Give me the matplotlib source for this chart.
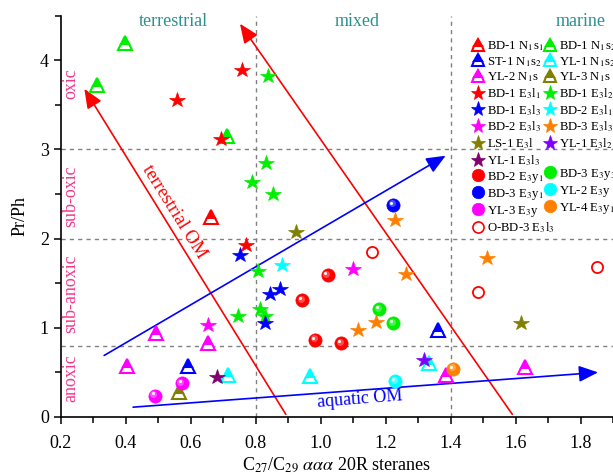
import matplotlib
matplotlib.use("Agg")
import matplotlib.pyplot as plt
import matplotlib.transforms as mtransforms
from matplotlib.lines import Line2D

plt.rcParams['font.family'] = ['Liberation Serif', 'DejaVu Serif']
plt.rcParams['mathtext.fontset'] = 'stix'

# ── Data (C27/C29 steranes vs Pr/Ph) ──────────────────────────────────────
# triangles (N1 samples)
bd1_n1s1_x = [0.663]
bd1_n1s1_y = [2.24]
bd1_n1s2_x = [0.398, 0.313, 0.711]
bd1_n1s2_y = [4.19, 3.72, 3.15]
st1_n1s2_x = [0.591, 1.362]
st1_n1s2_y = [0.57, 0.97]
yl1_n1s2_x = [0.714, 0.968, 1.334]
yl1_n1s2_y = [0.47, 0.46, 0.60]
yl2_n1s_x = [0.494, 0.653, 0.405, 1.385, 1.629]
yl2_n1s_y = [0.94, 0.83, 0.57, 0.47, 0.56]
yl3_n1s_x = [0.564]
yl3_n1s_y = [0.28]
# stars (E3l samples)
bd1_e3l1_x = [0.557, 0.759, 0.693, 0.770]
bd1_e3l1_y = [3.56, 3.89, 3.12, 1.93]
bd1_e3l2_x = [0.839, 0.832, 0.788, 0.853, 0.808, 0.813, 0.747, 0.829]
bd1_e3l2_y = [3.82, 2.85, 2.64, 2.50, 1.64, 1.21, 1.13, 1.13]
bd1_e3l3_x = [0.752, 0.844, 0.874, 0.829]
bd1_e3l3_y = [1.82, 1.38, 1.44, 1.05]
bd2_e3l1_x = [0.882]
bd2_e3l1_y = [1.70]
bd2_e3l3_x = [0.653, 1.101]
bd2_e3l3_y = [1.03, 1.66]
bd3_e3l3_x = [1.229, 1.262, 1.513, 1.170, 1.116]
bd3_e3l3_y = [2.21, 1.60, 1.78, 1.07, 0.97]
ls1_e3l_x = [0.923, 1.617]
ls1_e3l_y = [2.07, 1.05]
yl1_e3l2_x = [1.318]
yl1_e3l2_y = [0.64]
yl1_e3l3_x = [0.680]
yl1_e3l3_y = [0.45]
# spheres (E3y samples)
bd2_e3y1_x = [1.022, 0.944, 0.983, 1.063]
bd2_e3y1_y = [1.59, 1.31, 0.865, 0.83]
bd3_e3y3_x = [1.180, 1.224]
bd3_e3y3_y = [1.21, 1.05]
bd3_e3y1_x = [1.224]
bd3_e3y1_y = [2.38]
yl2_e3y_x = [1.229]
yl2_e3y_y = [0.40]
yl3_e3y_x = [0.573, 0.490]
yl3_e3y_y = [0.38, 0.24]
yl4_e3y1_x = [1.408]
yl4_e3y1_y = [0.54]
# open circles
obd3_e3l3_x = [1.157, 1.485, 1.850]
obd3_e3l3_y = [1.85, 1.40, 1.68]

# trend arrows: (start, end)
terr_arrow1 = [(0.893, 0.03), (0.273, 3.68)]
terr_arrow2 = [(1.590, 0.03), (0.752, 4.41)]
aq_arrow1 = [(0.334, 0.69), (1.385, 2.93)]
aq_arrow2 = [(0.423, 0.11), (1.854, 0.50)]

RED, GREEN, BLUE = '#ff0000', '#00ee00', '#0000ff'
CYAN, MAG, OLIVE = '#00ffff', '#ff00ff', '#808000'
ORANGE, VIOLET, PURPLE = '#ff8000', '#8000ff', '#800070'

fig = plt.figure(figsize=(6.13, 4.76), dpi=100)
ax = fig.add_axes([0.0989, 0.124, 0.9011, 0.843])
ax.set_xlim(0.2, 1.9)
ax.set_ylim(0, 4.5)

# ── dashed division lines ─────────────────────────────────────────────────
for xv in [0.8, 1.4]:
    ax.axvline(xv, color='#808080', ls=(0, (3, 3)), lw=1, zorder=1)
for yv in [3, 2, 0.8]:
    ax.axhline(yv, color='#808080', ls=(0, (3, 3)), lw=1, zorder=1)

# ── arrows ───────────────────────────────────────────────────────────────
def arrow(pts, color):
    ax.annotate('', xy=pts[1], xytext=pts[0],
                arrowprops=dict(arrowstyle='-|>,head_length=0.9,head_width=0.38',
                                mutation_scale=13, color=color, lw=1.2,
                                shrinkA=0, shrinkB=0), zorder=2)

arrow(terr_arrow1, RED)
arrow(terr_arrow2, RED)
arrow(aq_arrow1, BLUE)
arrow(aq_arrow2, BLUE)

ax.text(0.55, 2.30, 'terrestrial OM', color=RED, fontsize=13.5,
        rotation=-58, ha='center', va='center', rotation_mode='anchor')
ax.text(1.12, 0.20, 'aquatic OM', color=BLUE, fontsize=13,
        rotation=4.5, ha='center', va='center', rotation_mode='anchor')

# ── region labels ────────────────────────────────────────────────────────
TEAL = '#2a9090'
PINK = '#ee3a8c'
ax.text(0.546, 4.43, 'terrestrial', color=TEAL, fontsize=13, ha='center', va='center')
ax.text(1.112, 4.43, 'mixed', color=TEAL, fontsize=13, ha='center', va='center')
ax.text(1.80, 4.43, 'marine', color=TEAL, fontsize=13, ha='center', va='center')
for lab, yy in [('oxic', 3.74), ('sub-oxic', 2.48), ('sub-anoxic', 1.38), ('anoxic', 0.44)]:
    ax.text(0.232, yy, lab, color=PINK, fontsize=13, rotation=90,
            ha='center', va='center')

# ── markers ──────────────────────────────────────────────────────────────
def tri(x, y, c):
    ax.plot(x, y, ls='none', marker='^', ms=10, mfc=c, mfcalt='white',
            fillstyle='top', mec=c, mew=1.5, zorder=5)

def star(x, y, c):
    ax.plot(x, y, ls='none', marker='*', ms=11.5, mfc=c, mec=c, mew=0.5, zorder=5)

def lighten(c, f):
    r, g, b = matplotlib.colors.to_rgb(c)
    return (r + (1 - r) * f, g + (1 - g) * f, b + (1 - b) * f)

def sphere(x, y, c):
    ax.plot(x, y, ls='none', marker='o', ms=9.5, mfc=c, mec=c, mew=0.5, zorder=5)
    off = mtransforms.ScaledTranslation(-1.0 / 72, 1.0 / 72, fig.dpi_scale_trans)
    ax.plot(x, y, ls='none', marker='o', ms=5, mfc=lighten(c, 0.3), mec='none',
            transform=ax.transData + off, zorder=6)
    off2 = mtransforms.ScaledTranslation(-1.6 / 72, 1.6 / 72, fig.dpi_scale_trans)
    ax.plot(x, y, ls='none', marker='o', ms=2.2, mfc='white', mec='none',
            transform=ax.transData + off2, zorder=7)

tri(bd1_n1s1_x, bd1_n1s1_y, RED)
tri(bd1_n1s2_x, bd1_n1s2_y, GREEN)
tri(st1_n1s2_x, st1_n1s2_y, BLUE)
tri(yl1_n1s2_x, yl1_n1s2_y, CYAN)
tri(yl2_n1s_x, yl2_n1s_y, MAG)
tri(yl3_n1s_x, yl3_n1s_y, OLIVE)
star(bd1_e3l1_x, bd1_e3l1_y, RED)
star(bd1_e3l2_x, bd1_e3l2_y, GREEN)
star(bd1_e3l3_x, bd1_e3l3_y, BLUE)
star(bd2_e3l1_x, bd2_e3l1_y, CYAN)
star(bd2_e3l3_x, bd2_e3l3_y, MAG)
star(bd3_e3l3_x, bd3_e3l3_y, ORANGE)
star(ls1_e3l_x, ls1_e3l_y, OLIVE)
star(yl1_e3l2_x, yl1_e3l2_y, VIOLET)
star(yl1_e3l3_x, yl1_e3l3_y, PURPLE)
sphere(bd2_e3y1_x, bd2_e3y1_y, RED)
sphere(bd3_e3y3_x, bd3_e3y3_y, GREEN)
sphere(bd3_e3y1_x, bd3_e3y1_y, BLUE)
sphere(yl2_e3y_x, yl2_e3y_y, CYAN)
sphere(yl3_e3y_x, yl3_e3y_y, MAG)
sphere(yl4_e3y1_x, yl4_e3y1_y, ORANGE)
ax.plot(obd3_e3l3_x, obd3_e3l3_y, ls='none', marker='o', ms=8, mfc='white',
        mec=RED, mew=1.3, zorder=5)

# ── legend (two separate columns) ────────────────────────────────────────
def h_tri(c):
    return Line2D([], [], ls='none', marker='^', ms=9, mfc=c, mfcalt='white',
                  fillstyle='top', mec=c, mew=1.5)

def h_mk(m, c, ms, mfc=None):
    return Line2D([], [], ls='none', marker=m, ms=ms, mfc=c if mfc is None else mfc,
                  mec=c, mew=1.2 if mfc else 0.5)

blank = Line2D([], [], ls='none', marker=None)
col1 = [(h_tri(RED), 'BD-1 N$_1$s$_1$'), (h_tri(BLUE), 'ST-1 N$_1$s$_2$'),
        (h_tri(MAG), 'YL-2 N$_1$s'), (h_mk('*', RED, 11), 'BD-1 E$_3$l$_1$'),
        (h_mk('*', BLUE, 11), 'BD-1 E$_3$l$_3$'), (h_mk('*', MAG, 11), 'BD-2 E$_3$l$_3$'),
        (h_mk('*', OLIVE, 11), 'LS-1 E$_3$l'), (h_mk('*', PURPLE, 11), 'YL-1 E$_3$l$_3$'),
        (h_mk('o', RED, 9), 'BD-2 E$_3$y$_1$'), (h_mk('o', BLUE, 9), 'BD-3 E$_3$y$_1$'),
        (h_mk('o', MAG, 9), 'YL-3 E$_3$y'), (h_mk('o', RED, 8, 'white'), 'O-BD-3 E$_3$l$_3$')]
col2 = [(h_tri(GREEN), 'BD-1 N$_1$s$_2$'), (h_tri(CYAN), 'YL-1 N$_1$s$_2$'),
        (h_tri(OLIVE), 'YL-3 N$_1$s'), (h_mk('*', GREEN, 11), 'BD-1 E$_3$l$_2$'),
        (h_mk('*', CYAN, 11), 'BD-2 E$_3$l$_1$'), (h_mk('*', ORANGE, 11), 'BD-3 E$_3$l$_3$'),
        (h_mk('*', VIOLET, 11), 'YL-1 E$_3$l$_2$'), (blank, ' '),
        (h_mk('o', GREEN, 9), 'BD-3 E$_3$y$_3$'), (h_mk('o', CYAN, 9), 'YL-2 E$_3$y'),
        (h_mk('o', ORANGE, 9), 'YL-4 E$_3$y$_1$')]

leg_kw = dict(loc='upper left', frameon=False, fontsize=9.2, handlelength=0.8,
              handletextpad=0.3, labelspacing=0.15, borderpad=0, borderaxespad=0)
for col, x0 in [(col1, 473), (col2, 545)]:
    fig.legend([h for h, _ in col], [l for _, l in col],
               bbox_to_anchor=(x0 / 613, 1 - 39 / 476), **leg_kw)

# ── axes cosmetics ───────────────────────────────────────────────────────
for s in ['top', 'right']:
    ax.spines[s].set_visible(False)
for s in ['left', 'bottom']:
    ax.spines[s].set_linewidth(1.2)
ax.set_xticks([0.2, 0.4, 0.6, 0.8, 1.0, 1.2, 1.4, 1.6, 1.8])
ax.set_xticks([0.3, 0.5, 0.7, 0.9, 1.1, 1.3, 1.5, 1.7, 1.9], minor=True)
ax.set_yticks([0, 1, 2, 3, 4])
ax.set_yticks([0.5, 1.5, 2.5, 3.5, 4.5], minor=True)
ax.tick_params(which='major', direction='out', length=5, width=1.1, labelsize=13)
ax.tick_params(which='minor', direction='out', length=4, width=1.1)
ax.tick_params(axis='x', which='major', pad=8)
ax.set_xlabel(r'C$_{27}$/C$_{29}$ $\alpha\alpha\alpha$ 20R steranes', fontsize=13, labelpad=2)
ax.set_ylabel('Pr/Ph', fontsize=13, labelpad=8)

fig.savefig('out.png', dpi=100)
